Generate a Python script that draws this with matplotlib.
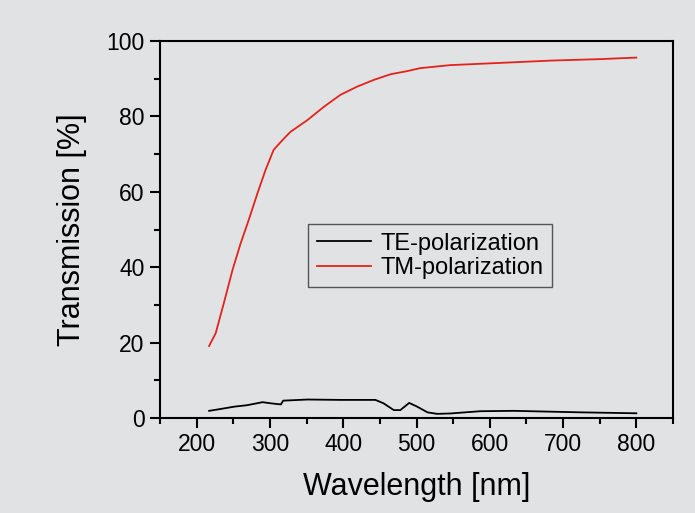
import matplotlib
matplotlib.use("Agg")
import matplotlib.pyplot as plt
from matplotlib.ticker import MultipleLocator

plt.rcParams['font.family'] = ['Liberation Sans', 'DejaVu Sans']

# TE-polarization
te_wl = [217, 233, 251, 269, 290, 301, 315, 318, 351, 396, 444, 455, 469, 478,
         490, 501, 515, 528, 546, 587, 633, 678, 724, 800]
te_val = [1.9, 2.4, 3.0, 3.4, 4.2, 3.9, 3.6, 4.6, 4.9, 4.8, 4.8, 3.9, 2.1, 2.1,
          4.0, 3.0, 1.5, 1.1, 1.2, 1.8, 1.9, 1.7, 1.5, 1.25]

# TM-polarization
tm_wl = [217, 226, 237, 249, 260, 271, 283, 294, 305, 317, 328, 351, 374, 396,
         419, 442, 465, 487, 505, 546, 615, 683, 751, 800]
tm_val = [19.1, 22.5, 30.4, 39.3, 46.3, 52.5, 59.6, 65.8, 71.1, 73.7, 75.9, 79.0,
          82.6, 85.7, 87.9, 89.7, 91.2, 92.0, 92.8, 93.6, 94.2, 94.8, 95.2, 95.6]

bg = '#e1e2e4'
fig = plt.figure(figsize=(6.95, 5.13), dpi=100, facecolor=bg)
ax = fig.add_axes([160 / 695, 1 - 418 / 513, 513 / 695, 377 / 513], facecolor=bg)

ax.plot(te_wl, te_val, color='black', lw=1.3, label='TE-polarization')
ax.plot(tm_wl, tm_val, color='#e3231b', lw=1.3, label='TM-polarization')

ax.set_xlim(150, 850)
ax.set_ylim(0, 100)
ax.xaxis.set_major_locator(MultipleLocator(100))
ax.xaxis.set_minor_locator(MultipleLocator(50))
ax.yaxis.set_major_locator(MultipleLocator(20))
ax.yaxis.set_minor_locator(MultipleLocator(10))
ax.set_xticks(range(200, 900, 100))
ax.set_xticklabels([str(v) for v in range(200, 900, 100)])

for s in ax.spines.values():
    s.set_linewidth(1.5)
ax.tick_params(which='major', direction='out', length=7, width=1.5, labelsize=16.5, pad=4)
ax.tick_params(which='minor', direction='out', length=4, width=1.5)

ax.set_xlabel('Wavelength [nm]', fontsize=22, labelpad=11)
ax.set_ylabel('Transmission [%]', fontsize=22, labelpad=14)

leg = ax.legend(loc='lower left', bbox_to_anchor=(0.289, 0.347), fontsize=17,
                frameon=True, fancybox=False, handlelength=2.3, handletextpad=0.4,
                borderpad=0.35, labelspacing=0.1, borderaxespad=0)
leg.get_frame().set_facecolor(bg)
leg.get_frame().set_edgecolor('#555555')
leg.get_frame().set_linewidth(1.0)
leg.get_frame().set_alpha(1)

fig.savefig('out.png', dpi=100, facecolor=bg)
